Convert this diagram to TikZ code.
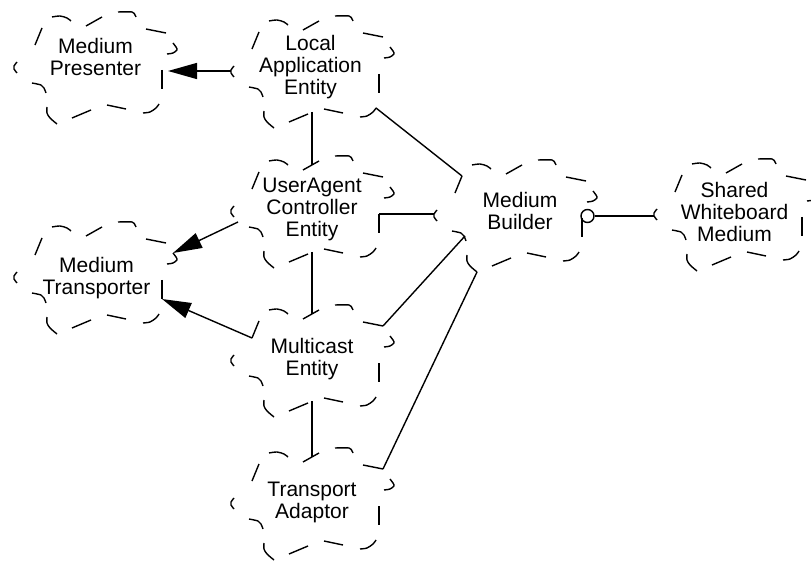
\documentclass[tikz,border=0pt]{standalone}
\usepackage{fontspec}
\setmainfont{Liberation Sans}
\usetikzlibrary{arrows.meta,calc}

\tikzset{
  cloudpen/.style={line width=1.4pt},
  link/.style={line width=1.4pt},
  arrowlink/.style={link, -{Triangle[length=29pt,width=16pt]}},
  lbl/.style={align=center, inner sep=0pt, text depth=0pt,
              font=\fontsize{21}{22}\selectfont},
  % dashed Booch class cloud, drawn around its centre
  cloud/.pic={
    \draw[cloudpen] plot[smooth] coordinates {(-43,-51)(-35,-52)(-28,-50)(-24,-47)};
    \draw[cloudpen] (-9,-42) -- (7,-51);
    \draw[cloudpen] plot[smooth] coordinates {(23,-56)(37,-56)(40,-53)(41,-51)};
    \draw[cloudpen] (51,-39) -- (71,-35);
    \draw[cloudpen] plot[smooth] coordinates {(78,-25)(81,-21)(82,-18)(78,-15)(72,-14)};
    \draw[cloudpen] (67,2) -- (67,21);
    \draw[cloudpen] plot[smooth] coordinates {(64,36)(61,40)(55,44)(48,45)};
    \draw[cloudpen] (12,37) -- (31,41);
    \draw[cloudpen] (-23,50) -- (-4,42);
    \draw[cloudpen] plot[smooth] coordinates {(-48,39)(-48,45)(-45,50)(-38,56)};
    \draw[cloudpen] plot[smooth] coordinates {(-63,15)(-54,17)(-51,20)(-49,25)};
    \draw[cloudpen] plot[smooth] coordinates {(-78,-6)(-81,-2)(-81,1)(-78,5)};
    \draw[cloudpen] (-60,-23) -- (-53,-40);
    % attachment points on the outline
    \coordinate (-w)  at (-81,-1);
    \coordinate (-e)  at (67,2);
    \coordinate (-eb) at (67,21);
    \coordinate (-n)  at (0,-47);
    \coordinate (-s)  at (0,40);
    \coordinate (-ne) at (71,-35);
    \coordinate (-en) at (78,-25);
    \coordinate (-se) at (64,36);
    \coordinate (-nw) at (-53,-40);
    \coordinate (-wn) at (-60,-23);
    \coordinate (-wl) at (-74,10);
    \coordinate (-sw) at (-50,20);
    \coordinate (-ss) at (-38,56);
  }
}

\begin{document}
\begin{tikzpicture}[x=1pt, y=-1pt]
  \useasboundingbox (0,0) rectangle (811,561);

  % classes
  \pic (mp)  at (95,68)   {cloud};
  \pic (lae) at (312,72)  {cloud};
  \pic (uac) at (312,212) {cloud};
  \pic (mt)  at (95,278)  {cloud};
  \pic (mc)  at (312,361) {cloud};
  \pic (ta)  at (312,504) {cloud};
  \pic (mb)  at (515,216) {cloud};
  \pic (swm) at (735,215) {cloud};

  % class names
  \node[lbl] (mpt)  at (95.5,56.5)  {Medium\\Presenter};
  \node[lbl] (laet) at (310.5,64.5) {Local\\Application\\Entity};
  \node[lbl] (uact) at (312,207)    {UserAgent\\Controller\\Entity};
  \node[lbl] (mtt)  at (96.5,275.5) {Medium\\Transporter};
  \node[lbl] (mct)  at (312,356.5)  {Multicast\\Entity};
  \node[lbl] (tat)  at (312,500)    {Transport\\Adaptor};
  \node[lbl] (mbt)  at (520,210.5)  {Medium\\Builder};
  \node[lbl] (swmt) at (734.5,211.5){Shared\\Whiteboard\\Medium};

  % relationships
  \draw[arrowlink] (lae-w) -- ($(lae-w -| mp-e)+(6,0)$);
  \draw[link] (lae-s) -- (uac-n);
  \draw[link] (lae-se) -- (mb-nw);
  \draw[link] (uac-e) -- (uac-e -| mb-w);
  \draw[arrowlink] (uac-wl) -- (mt-en);
  \draw[link] (uac-s) -- (mc-n);
  \draw[arrowlink] (mc-wn) -- (mt-eb);
  \draw[link] (mc-ne) -- (mb-sw);
  \draw[link] (mc-s) -- (ta-n);
  \draw[link] (ta-ne) -- (mb-ss);
  \node[link, draw, circle, minimum size=13pt, inner sep=0pt] (mbo) at ($(mb-e)+(5.5,-2)$) {};
  \draw[link] (mbo.east) -- (mbo.east -| swm-w);
\end{tikzpicture}
\end{document}
